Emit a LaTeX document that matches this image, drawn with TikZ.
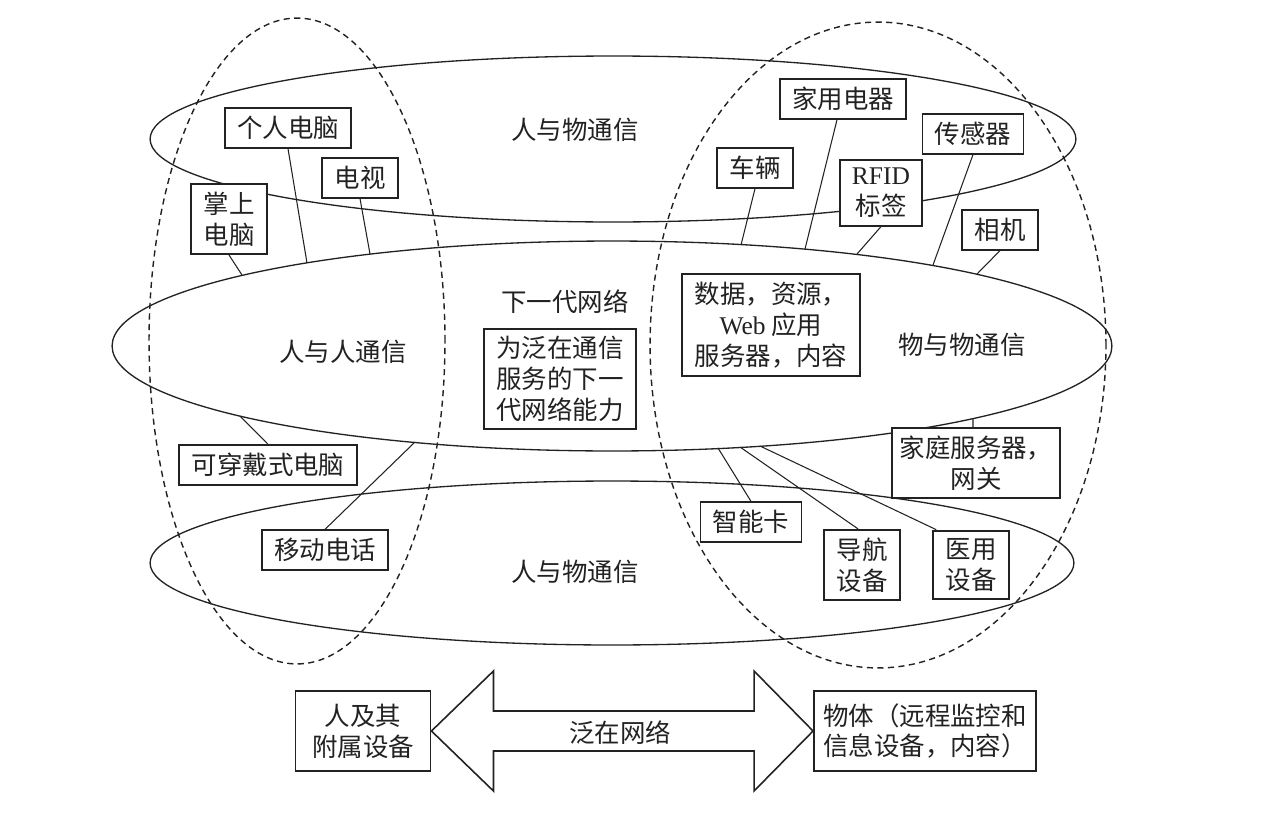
\documentclass[tikz,border=0pt]{standalone}
\usepackage{fontspec}
\setmainfont{Liberation Serif}
\newfontfamily\cjk{Noto Sans CJK SC}
\usetikzlibrary{positioning, calc}
\definecolor{ink}{HTML}{222222}

\tikzset{
  ring/.style={draw=ink, line width=0.75pt},
  zone/.style={draw=ink, line width=0.8pt, dash pattern=on 3.5pt off 2.5pt},
  devbox/.style={draw=ink, fill=white, line width=1.1pt, inner xsep=7pt,
                 inner ysep=4.5pt, align=center, text=ink},
  tag/.style={text=ink},
  link/.style={draw=ink, line width=0.6pt},
}

\begin{document}
\begin{tikzpicture}[x=0.02cm, y=-0.02cm, font=\cjk\fontsize{14.5}{17.5}\selectfont]

  \useasboundingbox[fill=white] (0,0) rectangle (1280,818);

  % communication rings and the two domains
  \draw[ring] (613,139) ellipse [x radius=9.26cm, y radius=1.66cm];
  \draw[ring] (612,346) ellipse [x radius=10cm, y radius=2.1cm];
  \draw[ring] (612,563) ellipse [x radius=9.24cm, y radius=1.64cm];
  \draw[zone] (297,341) ellipse [x radius=2.96cm, y radius=6.46cm];
  \draw[zone] (878,345) ellipse [x radius=4.56cm, y radius=6.46cm];

  \node[tag] (topcom) at (575,130) {人与物通信};
  \node[tag] (ngn)    at (565,302) {下一代网络};
  \node[tag] (p2p)    at (343,352) {人与人通信};
  \node[tag] (m2m)    at (962,345) {物与物通信};
  \node[tag] (botcom) at (575,572) {人与物通信};

  % devices
  \node[devbox] (pc)     at (288,128) {个人电脑};
  \node[devbox] (tv)     at (360,178) {电视};
  \node[devbox] (palm)   at (229,219) {掌上\\电脑};
  \node[devbox] (appl)   at (843,99)  {家用电器};
  \node[devbox] (sensor) at (973,134) {传感器};
  \node[devbox] (car)    at (755,168) {车辆};
  \node[devbox] (rfid)   at (881,193) {{\rmfamily RFID}\\标签};
  \node[devbox] (cam)    at (1000,230) {相机};
  \node[devbox] (data)   at (771,325) {数据，资源，\\{\rmfamily Web} 应用\\服务器，内容};
  \node[devbox] (cap)    at (560,379) {为泛在通信\\服务的下一\\代网络能力};
  \node[devbox] (wear)   at (268,465) {可穿戴式电脑};
  \node[devbox] (mob)    at (325,550) {移动电话};
  \node[devbox, inner xsep=4.5pt] (gw) at (976,463) {家庭服务器，\\网关};
  \node[devbox] (card)   at (751,522) {智能卡};
  \node[devbox] (nav)    at (862,565) {导航\\设备};
  \node[devbox] (med)    at (971,565) {医用\\设备};

  % points on the middle ring
  \coordinate (pcEnd)     at (307,263);
  \coordinate (tvEnd)     at (370,254);
  \coordinate (palmEnd)   at (242,275);
  \coordinate (carEnd)    at (741,245);
  \coordinate (applEnd)   at (805,249);
  \coordinate (rfidEnd)   at (857,254);
  \coordinate (sensorEnd) at (933,265);
  \coordinate (camEnd)    at (977,274);
  \coordinate (wearEnd)   at (240,416);
  \coordinate (mobEnd)    at (415,442);
  \coordinate (cardEnd)   at (718,448);
  \coordinate (navEnd)    at (740,447);
  \coordinate (medEnd)    at (760,446);
  \coordinate (gwEnd)     at (973,419);

  \draw[link] (pc.south) -- (pcEnd);
  \draw[link] (tv.south) -- (tvEnd);
  \draw[link] (palm.south) -- (palmEnd);
  \draw[link] (car.south) -- (carEnd);
  \draw[link] ([xshift=-0.12cm]appl.south) -- (applEnd);
  \draw[link] (rfid.south) -- (rfidEnd);
  \draw[link] (sensor.south) -- (sensorEnd);
  \draw[link] (cam.south) -- (camEnd);
  \draw[link] (wear.north) -- (wearEnd);
  \draw[link] (mob.north) -- (mobEnd);
  \draw[link] (card.north) -- (cardEnd);
  \draw[link] ([xshift=-0.08cm]nav.north) -- (navEnd);
  \draw[link] ([xshift=0.08cm]med.north west) -- (medEnd);
  \draw[link] ([xshift=-0.06cm]gw.north) -- (gwEnd);

  % ubiquitous network
  \node[devbox, minimum width=2.7cm, minimum height=1.6cm] (human) at (363,731) {人及其\\附属设备};
  \node[devbox, inner xsep=4.5pt, minimum width=4.44cm, minimum height=1.6cm] (thing) at (925,731) {物体（远程监控和\\信息设备，内容）};

  \draw[draw=ink, line width=0.9pt] (human.east) -- ++(62,-60) -- ++(0,40)
    -- ($(thing.west)+(-59,-20)$) -- ++(0,-40) -- (thing.west) -- ++(-59,60)
    -- ++(0,-40) -- ($(human.east)+(62,20)$) -- ++(0,40) -- cycle;
  \node[tag] (ubiq) at (620,733) {泛在网络};

\end{tikzpicture}
\end{document}
